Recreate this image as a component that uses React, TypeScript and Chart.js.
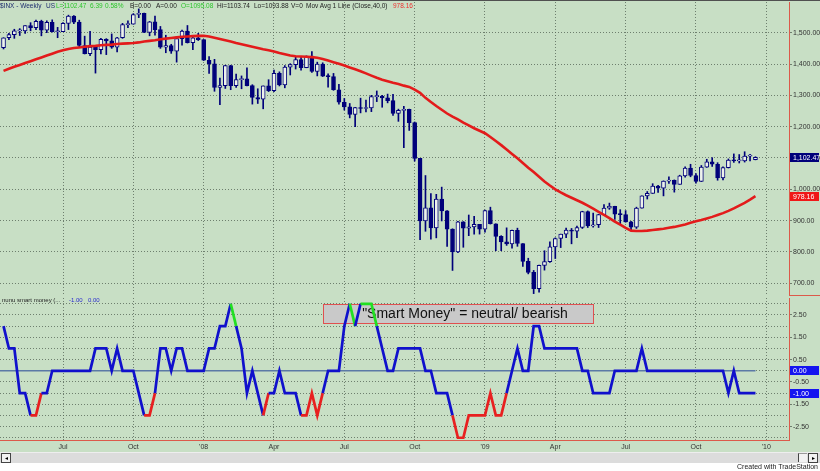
import React, { useEffect, useRef } from "react";
import { Chart, registerables } from "chart.js";

Chart.register(...registerables);

// ---- Weekly S&P 500 ($INX) candles, Apr 20 2007 .. Dec 18 2009 (index = week number) ----
const OPEN = [
  1452, 1484, 1494, 1506, 1506, 1523, 1516, 1536, 1508, 1533,
  1503, 1503, 1530, 1553, 1534, 1459, 1433, 1454, 1446, 1479,
  1474, 1454, 1484, 1526, 1527, 1558, 1562, 1501, 1535, 1510,
  1454, 1459, 1441, 1481, 1505, 1468, 1484, 1478, 1412, 1401,
  1325, 1331, 1395, 1331, 1350, 1353, 1331, 1293, 1288, 1330,
  1315, 1370, 1333, 1390, 1398, 1414, 1388, 1425, 1376, 1400,
  1361, 1360, 1318, 1278, 1263, 1239, 1261, 1258, 1260, 1296,
  1298, 1292, 1283, 1242, 1252, 1255, 1213, 1099, 899, 941,
  877, 969, 931, 873, 800, 896, 876, 880, 888, 873,
  932, 890, 850, 832, 826, 869, 827, 770, 735, 683,
  757, 769, 816, 843, 857, 870, 866, 878, 929, 883,
  887, 919, 940, 946, 921, 919, 896, 879, 940, 979,
  987, 1010, 1004, 1026, 1029, 1016, 1043, 1068, 1044, 1025,
  1071, 1088, 1080, 1036, 1069, 1093, 1091, 1091, 1106, 1095,
];
const HIGH = [
  1484, 1498, 1511, 1513, 1523, 1532, 1540, 1540, 1538, 1541,
  1517, 1532, 1556, 1555, 1540, 1489, 1504, 1456, 1482, 1481,
  1496, 1485, 1530, 1538, 1561, 1576, 1563, 1536, 1553, 1520,
  1492, 1463, 1488, 1508, 1523, 1485, 1498, 1478, 1424, 1415,
  1355, 1396, 1396, 1368, 1362, 1388, 1334, 1321, 1330, 1350,
  1381, 1375, 1395, 1401, 1422, 1423, 1426, 1440, 1406, 1404,
  1369, 1370, 1335, 1290, 1274, 1262, 1291, 1285, 1300, 1314,
  1300, 1304, 1303, 1256, 1265, 1256, 1215, 1099, 1044, 986,
  984, 1007, 932, 874, 898, 897, 918, 914, 888, 934,
  943, 890, 852, 877, 870, 876, 827, 780, 741, 758,
  804, 832, 845, 857, 876, 875, 883, 930, 931, 924,
  920, 951, 956, 946, 935, 932, 898, 943, 979, 993,
  1018, 1013, 1027, 1040, 1030, 1045, 1072, 1080, 1050, 1076,
  1096, 1101, 1085, 1072, 1097, 1113, 1111, 1120, 1112, 1104,
];
const LOW = [
  1448, 1478, 1482, 1491, 1498, 1506, 1510, 1490, 1500, 1502,
  1484, 1503, 1510, 1529, 1455, 1432, 1427, 1371, 1432, 1430,
  1450, 1439, 1482, 1516, 1527, 1548, 1500, 1490, 1492, 1450,
  1436, 1434, 1406, 1460, 1467, 1446, 1475, 1411, 1370, 1313,
  1270, 1322, 1318, 1325, 1321, 1330, 1272, 1274, 1257, 1312,
  1312, 1330, 1324, 1365, 1384, 1380, 1388, 1373, 1362, 1360,
  1326, 1316, 1272, 1253, 1228, 1200, 1244, 1247, 1248, 1280,
  1262, 1276, 1236, 1217, 1133, 1188, 1090, 839, 866, 841,
  845, 899, 818, 741, 798, 815, 852, 857, 857, 863,
  889, 804, 804, 821, 812, 818, 754, 730, 667, 672,
  742, 767, 779, 814, 846, 826, 846, 875, 878, 879,
  878, 919, 936, 904, 888, 895, 869, 875, 940, 969,
  987, 990, 979, 1019, 991, 1016, 1039, 1040, 1020, 1025,
  1070, 1073, 1029, 1030, 1068, 1086, 1084, 1087, 1091, 1094,
];
const CLOSE = [
  1484, 1494, 1506, 1506, 1523, 1516, 1536, 1508, 1533, 1503,
  1503, 1530, 1553, 1534, 1459, 1433, 1454, 1446, 1479, 1474,
  1454, 1484, 1526, 1527, 1558, 1562, 1501, 1535, 1510, 1454,
  1459, 1441, 1481, 1505, 1468, 1484, 1478, 1412, 1401, 1325,
  1331, 1395, 1331, 1350, 1353, 1331, 1293, 1288, 1330, 1315,
  1370, 1333, 1390, 1398, 1414, 1388, 1425, 1376, 1400, 1361,
  1360, 1318, 1278, 1263, 1239, 1261, 1258, 1260, 1296, 1298,
  1292, 1283, 1242, 1252, 1255, 1213, 1099, 899, 941, 877,
  969, 931, 873, 800, 896, 876, 880, 888, 873, 932,
  890, 850, 832, 826, 869, 827, 770, 735, 683, 757,
  769, 816, 843, 857, 870, 866, 878, 929, 883, 887,
  919, 940, 946, 921, 919, 896, 879, 940, 979, 987,
  1010, 1004, 1026, 1029, 1016, 1043, 1068, 1044, 1025, 1071,
  1088, 1080, 1036, 1069, 1093, 1091, 1091, 1106, 1106, 1102,
];
// 40-week moving average (red line)
const MA40 = [
  1378, 1385, 1391, 1397, 1403, 1409, 1415, 1421, 1427, 1433,
  1439, 1444, 1448, 1451, 1453, 1455, 1457, 1458, 1460, 1461,
  1462, 1464, 1465, 1466, 1467, 1469, 1472, 1474, 1476, 1479,
  1481, 1483, 1485, 1487, 1488, 1489, 1490, 1490, 1488, 1484,
  1480, 1476, 1472, 1467, 1463, 1459, 1455, 1451, 1447, 1444,
  1440, 1435, 1431, 1427, 1425, 1424, 1423, 1422, 1420, 1416,
  1411, 1406, 1401, 1395, 1389, 1383, 1377, 1370, 1363, 1356,
  1350, 1345, 1340, 1336, 1331, 1327, 1318, 1308, 1292, 1279,
  1266, 1254, 1242, 1232, 1223, 1213, 1204, 1195, 1187, 1179,
  1167, 1154, 1141, 1127, 1113, 1099, 1084, 1069, 1055, 1040,
  1025, 1012, 1000, 990, 981, 973, 965, 957, 948, 938,
  928, 918, 908, 897, 887, 877, 868, 867, 867, 868,
  870, 872, 874, 877, 880, 884, 888, 893, 898, 902,
  907, 912, 918, 924, 931, 939, 948, 957, 967, 978,
];
// "nunu smart money" indicator
const SMART = [
  2, 1, 1, -1, -1, -2, -2, -1, -1, 0,
  0, 0, 0, 0, 0, 0, 0, 1, 1, 1,
  0, 1, 0, 0, 0, -1, -2, -2, -1, 1,
  1, 0, 1, 1, 0, 0, 0, 0, 1, 1,
  2, 2, 3, 2, 1, -1, 0, -1, -2, -1,
  -1, 0, -1, -1, -1, -2, -2, -1, -2, -1,
  0, 0, 0, 2, 3, 2, 3, 3, 3, 2,
  1, 0, 0, 1, 1, 1, 1, 1, 0, 0,
  -1, -1, -1, -2, -3, -3, -2, -2, -2, -2,
  -1, -2, -2, -1, 0, 1, 0, 0, 2, 2,
  1, 1, 1, 1, 1, 1, 1, 0, 0, -1,
  -1, -1, -1, 0, 0, 0, 0, 0, 1, 0,
  0, 0, 0, 0, 0, 0, 0, 0, 0, 0,
  0, 0, 0, 0, -1, 0, -1, -1, -1, -1,
];
// segments (by starting week) painted red / green
const RED_SEGMENTS = [5, 6, 26, 27, 48, 55, 56, 57, 58, 83, 84, 85, 86, 87, 88, 89, 90, 91, 92];
const GREEN_SEGMENTS = [42, 64, 66, 67, 68];
const ZERO_LINE = [{ x: -1, y: 0 }, { x: 139, y: 0 }];

const TICK_WEEKS = [11, 24, 37, 50, 63, 76, 89, 102, 115, 128, 141];
const TICK_LABELS = ["Jul", "Oct", "'08", "Apr", "Jul", "Oct", "'09", "Apr", "Jul", "Oct", "'10"];
const PRICE_TICKS = [700, 800, 900, 1000, 1100, 1200, 1300, 1400, 1500];
const SMART_TICKS = [-3, -2.5, -2, -1.5, -1, -0.5, 0, 0.5, 1, 1.5, 2, 2.5, 3];
const PRICE_MARKERS = [
  { value: 1102.47, label: "1,102.47", color: "#00007a" },
  { value: 978.16, label: "978.16", color: "#f01818" },
];
const SMART_MARKERS = [
  { value: 0, label: "0.00", color: "#1414f0" },
  { value: -1, label: "-1.00", color: "#1414f0" },
];
const NOTE_TEXT = '"Smart Money" = neutral/ bearish';
const NOTE_BOX = { x0: 59, x1: 109, y0: 2.14, y1: 2.99, tx: 85.3, ty: 2.57 };

const FONT = "'Liberation Sans', Arial, sans-serif";
const BG = "#c8dfc5";
const GRID = "rgba(88,102,88,0.8)";
const AXIS_RED = "#dc5a4a";
const NAVY = "#00007a";
const HOLLOW = "#eef3ec";
const X_MIN = -0.65;
const X_MAX = 145.2;

const fmtPrice = (v: number) =>
  v.toLocaleString("en-US", { minimumFractionDigits: 2, maximumFractionDigits: 2 });
const isHalf = (v: number) => Math.abs(Math.round(v * 2)) % 2 === 1;

function markerPlugin(markers: { value: number; label: string; color: string }[], bottomRule: boolean) {
  return {
    id: "markers",
    afterDraw(chart: any) {
      const { ctx, chartArea } = chart;
      const ys = chart.scales.y;
      ctx.save();
      if (bottomRule) {
        ctx.strokeStyle = AXIS_RED;
        ctx.lineWidth = 1;
        ctx.beginPath();
        ctx.moveTo(chartArea.right, Math.round(chartArea.bottom) + 0.5);
        ctx.lineTo(chart.width, Math.round(chartArea.bottom) + 0.5);
        ctx.stroke();
      }
      markers.forEach((m) => {
        const py = ys.getPixelForValue(m.value);
        ctx.fillStyle = m.color;
        ctx.fillRect(chartArea.right + 1, Math.round(py - 4.5), 29, 9);
        ctx.fillStyle = "#ffffff";
        ctx.font = `7px ${FONT}`;
        ctx.textBaseline = "middle";
        ctx.textAlign = "left";
        ctx.fillText(m.label, chartArea.right + 4, py + 0.5);
      });
      ctx.restore();
    },
  };
}

const notePlugin = {
  id: "note",
  beforeDatasetsDraw(chart: any) {
    const { ctx } = chart;
    const xs = chart.scales.x;
    const ys = chart.scales.y;
    const x0 = Math.round(xs.getPixelForValue(NOTE_BOX.x0)) + 0.5;
    const x1 = Math.round(xs.getPixelForValue(NOTE_BOX.x1)) + 0.5;
    const y0 = Math.round(ys.getPixelForValue(NOTE_BOX.y1)) + 0.5;
    const y1 = Math.round(ys.getPixelForValue(NOTE_BOX.y0)) + 0.5;
    ctx.save();
    ctx.fillStyle = "#c9c9c9";
    ctx.fillRect(x0, y0, x1 - x0, y1 - y0);
    ctx.strokeStyle = "#e05050";
    ctx.lineWidth = 1;
    ctx.strokeRect(x0, y0, x1 - x0, y1 - y0);
    ctx.fillStyle = "#111";
    ctx.font = `14px ${FONT}`;
    ctx.textAlign = "center";
    ctx.textBaseline = "middle";
    ctx.fillText(NOTE_TEXT, xs.getPixelForValue(NOTE_BOX.tx), ys.getPixelForValue(NOTE_BOX.ty) + 1);
    ctx.restore();
  },
};

export default function App() {
  const priceRef = useRef<HTMLCanvasElement>(null);
  const smartRef = useRef<HTMLCanvasElement>(null);

  useEffect(() => {
    document.body.style.margin = "0";
    const xBase = {
      type: "linear" as const,
      min: X_MIN,
      max: X_MAX,
      offset: false,
      afterBuildTicks: (s: any) => {
        s.ticks = TICK_WEEKS.map((v) => ({ value: v }));
      },
    };

    const priceChart = new Chart(priceRef.current!, {
      type: "bar",
      data: {
        datasets: [
          {
            type: "line",
            label: "MA",
            data: MA40.map((v, i) => ({ x: i, y: v })),
            borderColor: "#e31b1b",
            borderWidth: 2.6,
            pointRadius: 0,
            tension: 0,
            order: 0,
          } as any,
          {
            type: "bar",
            label: "body",
            data: OPEN.map((o, i) => ({ x: i, y: [o, CLOSE[i]] })),
            backgroundColor: OPEN.map((o, i) => (CLOSE[i] < o ? NAVY : HOLLOW)),
            borderColor: NAVY,
            borderWidth: 1,
            borderSkipped: false,
            barThickness: 4,
            minBarLength: 1,
            grouped: false,
            order: 1,
          } as any,
          {
            type: "bar",
            label: "wick",
            data: LOW.map((l, i) => ({ x: i, y: [l, HIGH[i]] })),
            backgroundColor: NAVY,
            barThickness: 1,
            grouped: false,
            order: 2,
          } as any,
        ],
      },
      options: {
        animation: false,
        responsive: false,
        maintainAspectRatio: false,
        layout: { padding: { top: 2, bottom: 2, left: 0, right: 0 } },
        plugins: { legend: { display: false }, tooltip: { enabled: false } },
        scales: {
          x: {
            ...xBase,
            ticks: { display: false },
            grid: { color: GRID, drawTicks: false, offset: false },
            border: { display: false, dash: [1, 2] },
            afterFit: (s: any) => {
              s.height = 0;
              s.paddingLeft = 0;
              s.paddingRight = 0;
            },
          },
          y: {
            type: "linear",
            position: "right",
            min: 662.6,
            max: 1598,
            afterBuildTicks: (s: any) => {
              s.ticks = PRICE_TICKS.map((v) => ({ value: v }));
            },
            ticks: {
              font: { family: FONT, size: 7 },
              color: "#333",
              padding: 1,
              callback: (v: any) => fmtPrice(Number(v)),
            },
            grid: { color: GRID, tickLength: 3, tickColor: GRID },
            border: { display: true, color: AXIS_RED, width: 1, dash: [1, 2] },
            afterFit: (s: any) => {
              s.width = 31;
              s.paddingTop = 0;
              s.paddingBottom = 0;
            },
          },
        },
      } as any,
      plugins: [markerPlugin(PRICE_MARKERS, true)],
    });

    const smartChart = new Chart(smartRef.current!, {
      type: "line",
      data: {
        datasets: [
          {
            label: "smart",
            data: SMART.map((v, i) => ({ x: i, y: v })),
            borderColor: "#1010cc",
            borderWidth: 2.7,
            pointRadius: 0,
            tension: 0,
            order: 0,
            segment: {
              borderColor: (ctx: any) =>
                RED_SEGMENTS.includes(ctx.p0DataIndex)
                  ? "#e82020"
                  : GREEN_SEGMENTS.includes(ctx.p0DataIndex)
                  ? "#22e022"
                  : "#1010cc",
            },
          },
          {
            label: "zero",
            data: ZERO_LINE,
            borderColor: "#5b79a6",
            borderWidth: 1.5,
            pointRadius: 0,
            order: 1,
          },
        ],
      },
      options: {
        animation: false,
        responsive: false,
        maintainAspectRatio: false,
        layout: { padding: { top: 1, bottom: 0, left: 0, right: 0 } },
        plugins: { legend: { display: false }, tooltip: { enabled: false } },
        scales: {
          x: {
            ...xBase,
            ticks: {
              font: { family: FONT, size: 7 },
              color: "#333",
              padding: 3,
              maxRotation: 0,
              autoSkip: false,
              callback: (_v: any, i: number) => TICK_LABELS[i],
            },
            grid: { color: GRID, drawTicks: false, offset: false },
            border: { display: true, color: AXIS_RED, width: 1, dash: [1, 2] },
            afterFit: (s: any) => {
              s.height = 31;
              s.paddingLeft = 0;
              s.paddingRight = 0;
            },
          },
          y: {
            type: "linear",
            position: "right",
            min: -3.1,
            max: 3.26,
            afterBuildTicks: (s: any) => {
              s.ticks = SMART_TICKS.map((v) => ({ value: v }));
            },
            ticks: {
              font: { family: FONT, size: 7 },
              color: "#333",
              padding: 1,
              callback: (v: any) => (isHalf(Number(v)) ? Number(v).toFixed(2) : ""),
            },
            grid: {
              color: GRID,
              tickLength: 3,
              tickColor: (ctx: any) => (ctx.tick && isHalf(ctx.tick.value) ? GRID : "rgba(0,0,0,0)"),
            },
            border: { display: true, color: AXIS_RED, width: 1, dash: [1, 2] },
            afterFit: (s: any) => {
              s.width = 31;
              s.paddingTop = 0;
              s.paddingBottom = 0;
            },
          },
        },
      } as any,
      plugins: [notePlugin, markerPlugin(SMART_MARKERS, false)],
    });

    return () => {
      priceChart.destroy();
      smartChart.destroy();
    };
  }, []);

  const txt = (left: number, top: number, color: string, s: string, size = 6.5) => (
    <span
      style={{
        position: "absolute",
        left,
        top,
        color,
        fontSize: size,
        lineHeight: "9px",
        whiteSpace: "nowrap",
        fontFamily: FONT,
      }}
    >
      {s}
    </span>
  );

  return (
    <div
      style={{
        position: "fixed",
        left: 0,
        top: 0,
        width: 820,
        height: 471,
        background: "#ffffff",
        overflow: "hidden",
        fontFamily: FONT,
      }}
    >
      <div style={{ position: "absolute", left: 0, top: 0, width: 820, height: 452, background: BG }} />
      <div style={{ position: "absolute", left: 0, top: 0, width: 820, height: 1, background: "#505050" }} />
      <canvas
        ref={priceRef}
        width={820}
        height={297}
        style={{ position: "absolute", left: 0, top: 0, width: 820, height: 297 }}
      />
      <canvas
        ref={smartRef}
        width={820}
        height={174}
        style={{ position: "absolute", left: 0, top: 297, width: 820, height: 174 }}
      />
      {txt(0, 1, "#1e2d6e", "$INX - Weekly")}
      {txt(46, 1, "#1e2d6e", "US")}
      {txt(56, 1, "#2cc52c", "L=1102.47")}
      {txt(90, 1, "#2cc52c", "6.39")}
      {txt(105, 1, "#2cc52c", "0.58%")}
      {txt(130, 1, "#222", "B=0.00")}
      {txt(156, 1, "#222", "A=0.00")}
      {txt(181, 1, "#2cc52c", "O=1095.08")}
      {txt(217, 1, "#222", "Hi=1103.74")}
      {txt(254, 1, "#222", "Lo=1093.88")}
      {txt(291, 1, "#222", "V=0")}
      {txt(306, 1, "#222", "Mov Avg 1 Line (Close,40,0)")}
      {txt(393, 1, "#ee3030", "978.16")}
      {txt(2, 296, "#222", "nunu smart money (...", 6)}
      {txt(69, 296, "#2a2ad0", "-1.00", 6)}
      {txt(88, 296, "#2a2ad0", "0.00", 6)}
      <div
        style={{
          position: "absolute",
          left: 0,
          top: 452,
          width: 820,
          height: 10,
          background: "#dcdcdc",
          borderTop: "1px solid #eeeeee",
        }}
      />
      <div
        style={{
          position: "absolute",
          left: 1,
          top: 453,
          width: 8,
          height: 8,
          background: "#f2f2f2",
          border: "1px solid #444",
          fontSize: 6,
          lineHeight: "8px",
          textAlign: "center",
        }}
      >
        ◂
      </div>
      <div
        style={{
          position: "absolute",
          left: 798,
          top: 453,
          width: 8,
          height: 8,
          background: "#f2f2f2",
          borderLeft: "1px solid #444",
          borderTop: "1px solid #999",
        }}
      />
      <div
        style={{
          position: "absolute",
          left: 808,
          top: 453,
          width: 8,
          height: 8,
          background: "#f2f2f2",
          border: "1px solid #444",
          fontSize: 6,
          lineHeight: "8px",
          textAlign: "center",
        }}
      >
        ▸
      </div>
      <span
        style={{
          position: "absolute",
          right: 2,
          top: 462,
          fontSize: 7,
          lineHeight: "9px",
          color: "#222",
          fontFamily: FONT,
          whiteSpace: "nowrap",
        }}
      >
        Created with TradeStation
      </span>
    </div>
  );
}
